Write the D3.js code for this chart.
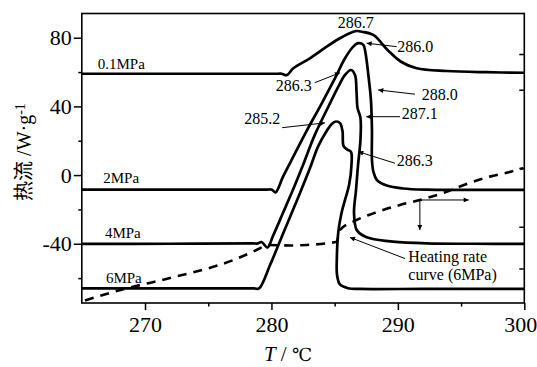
<!DOCTYPE html>
<html>
<head>
<meta charset="utf-8">
<script src="https://cdn.jsdelivr.net/npm/d3@7"></script>
<style>
  html, body { margin: 0; padding: 0; background: #fff; }
  svg { display: block; }
</style>
</head>
<body>
<svg id="chart" width="537" height="367"></svg>
<script>
const SERIF = "'Liberation Serif', 'Times New Roman', Times, 'DejaVu Serif', serif";
const CJK = "'Noto Sans CJK SC', 'Noto Sans CJK JP', sans-serif";

// Axis ticks
const xTicks = [270, 280, 290, 300];
const xMinorTicks = [275, 285, 295];
const yTicks = [80, 40, 0, -40];
const yMinorTicks = [60, 20, -20, -60];
const rightTicks = [70.5, 49.7, 4.1, -30.1, -54.4];

// DSC heat-flow curves, [temperature °C, heat flow W/g]
const pressures = ["0.1MPa", "2MPa", "4MPa", "6MPa"];
const flow01 = [[265,59.0],[275,59.0],[280.5,59.0],[280.81,59.0],[281.21,58.2],[281.73,62.2],[283.05,68.0],[284.37,74.8],[285.42,79.7],[286.47,83.5],[286.77,83.9],[287.16,83.5],[288.06,81.6],[289.22,72.6],[290.25,66.0],[291.49,62.2],[293.86,60.6],[297,59.9],[300,59.6]];
const flow2 = [[265,-8.5],[272,-8.5],[279.6,-8.5],[280.04,-8.5],[280.32,-10.1],[280.91,-1.1],[281.47,7.0],[282.65,23.9],[283.98,41.8],[285.03,56.4],[285.82,68.0],[286.47,74.8],[286.87,76.8],[287.27,75.8],[287.44,71.1],[287.68,57.3],[287.87,43.7],[287.95,26.3],[287.95,8.8],[288.07,1.8],[288.34,-2.9],[289.12,-6.1],[290.40,-7.8],[292.28,-8.5],[296,-8.6],[300,-8.6]];
const flow4 = [[265,-40.1],[272,-40.0],[278.5,-39.8],[278.94,-39.8],[279.21,-39.0],[279.69,-42.2],[280.12,-35.5],[280.91,-22.1],[281.86,-5.8],[282.50,5.9],[283.43,23.4],[284.50,39.8],[285.29,51.5],[285.82,58.3],[286.29,61.2],[286.61,58.3],[286.73,48.4],[286.81,39.1],[287.04,33.3],[287.04,20.4],[286.85,5.9],[286.69,-8.7],[286.53,-22.1],[286.74,-32.0],[287.24,-35.2],[287.80,-36.8],[289.61,-38.8],[292.28,-39.8],[296,-40.0],[300,-40.1]];
const flow6 = [[265,-66.0],[272,-66.0],[278.6,-66.0],[279.02,-66.0],[279.89,-52.4],[280.68,-38.4],[281.47,-24.4],[282.26,-10.4],[283.05,4.1],[283.71,17.0],[284.37,25.7],[284.77,29.8],[285.11,31.2],[285.42,30.3],[285.62,25.7],[285.70,17.0],[285.98,14.9],[286.29,13.5],[286.33,5.9],[286.14,-5.8],[285.82,-14.5],[285.56,-21.5],[285.29,-33.1],[285.17,-49.4],[285.19,-58.2],[285.42,-63.7],[286.06,-65.9],[287.00,-66.3],[292,-66.3],[300,-66.3]];
const flows = [flow01, flow2, flow4, flow6];
// where each pressure name sits: [°C, W/g]
const pressureLabelAt = [[266.26,61.8],[266.70,-4.9],[266.83,-36.6],[266.91,-62.8]];

// Heating-rate curve (6MPa), drawn dashed in heat-flow units
const heatingRate = [[265.25,-73.0],[268.28,-66.5],[272.24,-59.5],[276.98,-49.5],[279.10,-42.6],[279.62,-40.7],[281.47,-41.0],[282.79,-40.7],[284.37,-39.7],[285.16,-38.8],[285.42,-32.0],[286.47,-27.1],[288.06,-22.3],[290.17,-17.4],[291.74,-14.5],[293.86,-9.7],[295.44,-5.2],[297.28,-0.9],[298.60,1.4],[299.92,4.0]];

// Characteristic temperatures written on the curves
const tempLabels = ["286.7", "286.0", "288.0", "287.1", "286.3", "285.2", "286.3"];
const tempLabelAt = [[286.67,85.7],[289.95,71.7],[291.88,43.7],[290.30,32.7],[283.18,49.0],[280.70,29.8],[289.91,5.3]];
const tempLabelAnchor = ["middle","start","start","start","end","end","start"];
// leader arrows: [from, to] in [°C, W/g]; null = no arrow
const tempArrows = [null,
  [[289.90,74.8],[287.53,76.8]],
  [[291.35,47.1],[288.45,49.6]],
  [[290.17,34.0],[287.50,34.0]],
  [[283.43,53.8],[285.42,59.6]],
  [[280.85,27.6],[284.23,30.4]],
  [[289.77,6.9],[286.87,13.6]]];

const svg = d3.select("#chart");
const x = d3.scaleLinear().domain([265, 300]).range([81.8, 524.3]);
const y = d3.scaleLinear().domain([-74.5, 94.1]).range([303, 13.5]);

svg.append("defs").append("marker")
  .attr("id", "head").attr("viewBox", "0 0 10 10")
  .attr("refX", 10).attr("refY", 5)
  .attr("markerWidth", 8).attr("markerHeight", 5)
  .attr("markerUnits", "userSpaceOnUse").attr("orient", "auto")
  .append("path").attr("d", "M0,0L10,5L0,10z").attr("fill", "#000");

// axes
const gx = svg.append("g").attr("transform", `translate(0,${y(-74.5)})`)
  .call(d3.axisBottom(x).tickValues(xTicks).tickSize(7).tickPadding(6).tickFormat(d3.format("d")));
gx.append("g").call(d3.axisBottom(x).tickValues(xMinorTicks).tickSize(3.5).tickFormat(""));
// keep the last label inside the page
gx.selectAll(".tick text").filter(d => d === 300).attr("dx", -4);
const gy = svg.append("g").attr("transform", `translate(${x(265)},0)`)
  .call(d3.axisLeft(y).tickValues(yTicks).tickSize(8).tickPadding(2).tickFormat(d => d < 0 ? "-" + Math.abs(d) : d));
gy.append("g").call(d3.axisLeft(y).tickValues(yMinorTicks).tickSize(3.5).tickFormat(""));
svg.append("g").attr("transform", `translate(${x(300)},0)`)
  .call(d3.axisLeft(y).tickValues(rightTicks).tickSize(5).tickFormat(""));
svg.selectAll(".domain").remove();
svg.selectAll(".tick line").attr("stroke", "#000").attr("stroke-width", 1.5);
svg.selectAll("g").attr("font-family", SERIF);
svg.selectAll(".tick text").attr("font-family", SERIF).attr("font-size", 22).attr("fill", "#000");

// frame
svg.append("rect")
  .attr("x", x(265)).attr("y", y(94.1))
  .attr("width", x(300) - x(265)).attr("height", y(-74.5) - y(94.1))
  .attr("fill", "none").attr("stroke", "#000").attr("stroke-width", 1.6);

// curves
const line = d3.line().x(d => x(d[0])).y(d => y(d[1])).curve(d3.curveCatmullRom.alpha(0.5));
svg.append("g").selectAll("path").data(flows).join("path")
  .attr("d", line).attr("fill", "none").attr("stroke", "#000")
  .attr("stroke-width", 2.7).attr("stroke-linejoin", "round");

svg.append("path").datum(heatingRate)
  .attr("d", d3.line().x(d => x(d[0])).y(d => y(d[1])).curve(d3.curveMonotoneX))
  .attr("fill", "none").attr("stroke", "#000").attr("stroke-width", 2.6)
  .attr("stroke-dasharray", "9,7");

// pressure names
svg.append("g").selectAll("text").data(pressures).join("text")
  .attr("x", (d, i) => x(pressureLabelAt[i][0])).attr("y", (d, i) => y(pressureLabelAt[i][1]))
  .attr("font-family", SERIF).attr("font-size", 15).text(d => d);

// temperature annotations
svg.append("g").selectAll("line").data(tempArrows.filter(a => a)).join("line")
  .attr("x1", d => x(d[0][0])).attr("y1", d => y(d[0][1]))
  .attr("x2", d => x(d[1][0])).attr("y2", d => y(d[1][1]))
  .attr("stroke", "#000").attr("stroke-width", 1).attr("marker-end", "url(#head)");
svg.append("g").selectAll("text").data(tempLabels).join("text")
  .attr("x", (d, i) => x(tempLabelAt[i][0])).attr("y", (d, i) => y(tempLabelAt[i][1]))
  .attr("text-anchor", (d, i) => tempLabelAnchor[i])
  .attr("font-family", SERIF).attr("font-size", 16).text(d => d);

// heating-rate axis directions
const rateOrigin = [291.74, -14.5];
svg.append("line")
  .attr("x1", x(rateOrigin[0])).attr("y1", y(rateOrigin[1]))
  .attr("x2", x(295.6)).attr("y2", y(rateOrigin[1]))
  .attr("stroke", "#000").attr("stroke-width", 1).attr("marker-end", "url(#head)");
svg.append("line")
  .attr("x1", x(rateOrigin[0])).attr("y1", y(rateOrigin[1]))
  .attr("x2", x(rateOrigin[0])).attr("y2", y(-32.0))
  .attr("stroke", "#000").attr("stroke-width", 1).attr("marker-end", "url(#head)");

// heating-rate caption and leader
svg.append("line")
  .attr("x1", x(290.56)).attr("y1", y(-48.6))
  .attr("x2", x(286.21)).attr("y2", y(-36.3))
  .attr("stroke", "#000").attr("stroke-width", 1).attr("marker-end", "url(#head)");
const cap = svg.append("text").attr("font-family", SERIF).attr("font-size", 16);
cap.append("tspan").attr("x", x(290.83)).attr("y", y(-50.9)).text("Heating rate");
cap.append("tspan").attr("x", x(290.83)).attr("y", y(-61.1)).text("curve (6MPa)");

// axis titles
const xt = svg.append("text").attr("x", 288).attr("y", 361).attr("text-anchor", "middle")
  .attr("font-family", SERIF).attr("font-size", 21);
xt.append("tspan").attr("font-style", "italic").text("T");
xt.append("tspan").text(" / ");
xt.append("tspan").attr("font-family", "'DejaVu Serif', " + CJK).attr("font-size", 18).text("℃");

const yt = svg.append("text").attr("transform", "translate(31,152) rotate(-90)")
  .attr("text-anchor", "middle").attr("font-family", SERIF).attr("font-size", 20);
yt.append("tspan").attr("font-family", CJK).text("热流");
yt.append("tspan").text(" /W·g");
yt.append("tspan").attr("dy", "-0.45em").attr("font-size", 14).text("-1");
</script>
</body>
</html>
